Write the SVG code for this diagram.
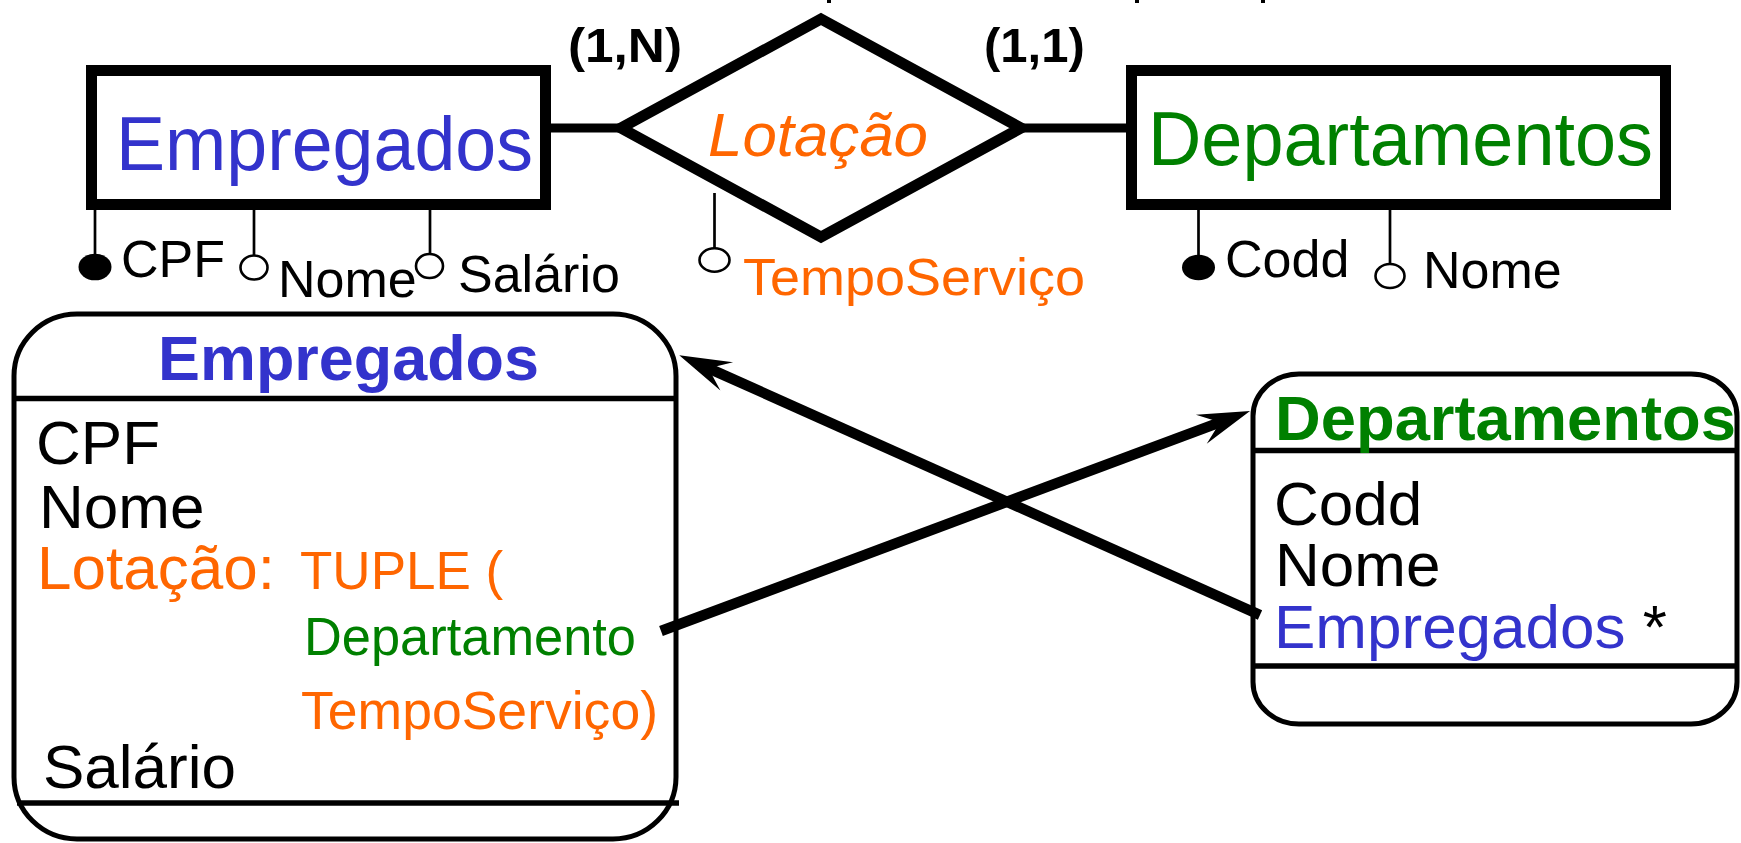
<svg xmlns="http://www.w3.org/2000/svg" width="1741" height="843" viewBox="0 0 1741 843">
<style>
text{font-family:"Liberation Sans",Arial,Helvetica,sans-serif}
.ent{fill:#fff;stroke:#000;stroke-width:11}
.link{stroke:#000;stroke-width:9;fill:none}
.arr{stroke:#000;stroke-width:10.5;fill:none}
.al{stroke:#000;stroke-width:2.7}
.key{fill:#000}
.opt{fill:#fff;stroke:#000;stroke-width:2.6}
.box{fill:#fff;stroke:#000;stroke-width:5}
.sep{stroke:#000;stroke-width:5.5}
.blue{fill:#3333cc}
.orange{fill:#ff6600}
.green{fill:#008000}
.blk{fill:#000}
.card{font-weight:bold;font-size:49px}
.at{font-size:52px}
.body{font-size:62px}
.small{font-size:53px}
.head{font-weight:bold;font-size:63px}
</style>
<defs>
<marker id="arrow" markerUnits="userSpaceOnUse" markerWidth="60" markerHeight="40" viewBox="-30 -20 60 40" refX="0" refY="0" orient="auto">
<path d="M28,0 L-24,-15.5 L-4,0 L-24,15.5 Z" fill="#000"/>
</marker>
</defs>
<rect width="1741" height="843" fill="#fff"/>
<g id="top-remnants" fill="#000">
<rect x="827" y="0" width="4" height="3"/>
<rect x="1135" y="0" width="4" height="3"/>
<rect x="1261" y="0" width="4" height="3"/>
</g>
<g id="er-connectors">
<line class="link" x1="551" y1="128" x2="621" y2="128"/>
<line class="link" x1="1021" y1="128" x2="1126" y2="128"/>
</g>
<g id="ent-empregados">
<rect class="ent" x="91.5" y="70.5" width="454" height="134"/>
<text class="blue" x="116" y="170" font-size="76" textLength="417" lengthAdjust="spacingAndGlyphs">Empregados</text>
</g>
<g id="rel-lotacao">
<polygon class="ent" points="821,19 1021,128 821,237 621,128"/>
<text class="orange" x="708" y="156" font-size="62" font-style="italic" textLength="220" lengthAdjust="spacingAndGlyphs">Lotação</text>
<text class="blk card" x="568" y="62" textLength="114" lengthAdjust="spacingAndGlyphs">(1,N)</text>
<text class="blk card" x="984" y="62" font-size="50">(1,1)</text>
</g>
<g id="ent-departamentos">
<rect class="ent" x="1131.5" y="70.5" width="534" height="134"/>
<text class="green" x="1148" y="165" font-size="76" textLength="505" lengthAdjust="spacingAndGlyphs">Departamentos</text>
</g>
<g id="attr-cpf">
<line class="al" x1="95" y1="210" x2="95" y2="256"/>
<ellipse class="key" cx="95" cy="267" rx="16.5" ry="13.3"/>
<text class="blk at" x="121" y="277">CPF</text>
</g>
<g id="attr-nome-emp">
<line class="al" x1="254" y1="210" x2="254" y2="256"/>
<ellipse class="opt" cx="254" cy="267.5" rx="13.5" ry="12"/>
<text class="blk at" x="278" y="297">Nome</text>
</g>
<g id="attr-salario">
<line class="al" x1="430" y1="210" x2="430" y2="254"/>
<ellipse class="opt" cx="429.5" cy="266" rx="13.5" ry="12"/>
<text class="blk at" x="458" y="292">Salário</text>
</g>
<g id="attr-temposervico">
<line class="al" x1="714.5" y1="193" x2="714.5" y2="248"/>
<ellipse class="opt" cx="714.5" cy="260" rx="15" ry="11.7"/>
<text class="orange at" x="743" y="295" font-size="53" textLength="342" lengthAdjust="spacingAndGlyphs">TempoServiço</text>
</g>
<g id="attr-codd">
<line class="al" x1="1198.5" y1="210" x2="1198.5" y2="256"/>
<ellipse class="key" cx="1198.5" cy="267.5" rx="16.5" ry="12.8"/>
<text class="blk at" x="1225" y="277">Codd</text>
</g>
<g id="attr-nome-dep">
<line class="al" x1="1390" y1="210" x2="1390" y2="264"/>
<ellipse class="opt" cx="1390" cy="276" rx="14.5" ry="12"/>
<text class="blk at" x="1423" y="288">Nome</text>
</g>
<g id="class-empregados">
<rect class="box" x="14" y="314" width="662" height="525" rx="63" ry="62"/>
<line class="sep" x1="14" y1="398.5" x2="676" y2="398.5"/>
<line class="sep" x1="17" y1="803" x2="679" y2="803"/>
<text class="blue head" x="158" y="380" textLength="381" lengthAdjust="spacingAndGlyphs">Empregados</text>
<text class="blk body" x="36" y="464">CPF</text>
<text class="blk body" x="39" y="528">Nome</text>
<text class="orange body" x="37" y="589">Lotação:</text>
<text class="orange small" x="300" y="589">TUPLE (</text>
<text class="green small" x="304" y="655" textLength="332" lengthAdjust="spacingAndGlyphs">Departamento</text>
<text class="orange small" x="301" y="729" textLength="357" lengthAdjust="spacingAndGlyphs">TempoServiço)</text>
<text class="blk body" x="43" y="788">Salário</text>
</g>
<g id="class-departamentos">
<rect class="box" x="1253" y="374" width="484" height="350" rx="46" ry="42"/>
<line class="sep" x1="1253" y1="450.5" x2="1737" y2="450.5"/>
<line class="sep" x1="1253" y1="666" x2="1737" y2="666"/>
<text class="green head" x="1275" y="440" textLength="461" lengthAdjust="spacingAndGlyphs">Departamentos</text>
<text class="blk body" x="1274" y="525" font-size="61">Codd</text>
<text class="blk body" x="1275" y="586" font-size="61">Nome</text>
<text class="body" x="1274" y="648"><tspan class="blue">Empregados</tspan><tspan class="blk"> *</tspan></text>
</g>
<g id="connectors">
<line class="arr" x1="661" y1="631" x2="1223.8" y2="420.8" marker-end="url(#arrow)"/>
<line class="arr" x1="1260" y1="615" x2="704.8" y2="366.6" marker-end="url(#arrow)"/>
</g>
</svg>
